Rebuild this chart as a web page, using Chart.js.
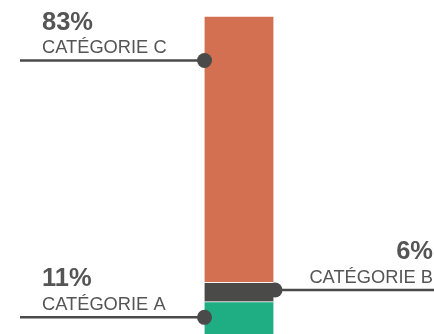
<!DOCTYPE html>
<html>
<head>
<meta charset="utf-8">
<script src="https://cdn.jsdelivr.net/npm/chart.js@4.4.0/dist/chart.umd.min.js"></script>
<style>
  html, body { margin: 0; padding: 0; background: #fff; overflow: hidden; }
  #wrap { width: 434px; height: 340px; }
</style>
</head>
<body>
<div id="wrap"><canvas id="shareChart"></canvas></div>
<script>
// données
const categories = ['CATÉGORIE A', 'CATÉGORIE B', 'CATÉGORIE C'];
const values = [11, 6, 83];
const colors = ['#1fae83', '#4a4a48', '#d37052'];

// étiquettes avec trait et point
const calloutPlugin = {
    id: 'callouts',
    afterDatasetsDraw(chart) {
        const ctx = chart.ctx;
        const W = chart.width;
        ctx.save();
        chart.data.datasets.forEach((ds, i) => {
            const bar = chart.getDatasetMeta(i).data[0];
            const top = Math.min(bar.y, bar.base);
            const bottom = Math.max(bar.y, bar.base);
            const left = bar.x - bar.width / 2;
            const right = bar.x + bar.width / 2;
            const y = Math.min((top + bottom) / 2 - 2, top + 44.5);
            const onRight = i === 1;
            const dotX = onRight ? right + 1.5 : left;

            // trait
            ctx.strokeStyle = '#4a4a4a';
            ctx.lineWidth = 2.5;
            ctx.beginPath();
            if (onRight) {
                ctx.moveTo(dotX, y);
                ctx.lineTo(W, y);
            } else {
                ctx.moveTo(20, y);
                ctx.lineTo(dotX, y);
            }
            ctx.stroke();

            // point
            ctx.fillStyle = '#4a4a4a';
            ctx.beginPath();
            ctx.arc(dotX, y, 7.5, 0, Math.PI * 2);
            ctx.fill();

            // textes
            ctx.fillStyle = '#555555';
            ctx.textBaseline = 'alphabetic';
            ctx.textAlign = onRight ? 'right' : 'left';
            const tx = onRight ? W - 1 : 42;
            ctx.font = 'bold 25.5px "Liberation Sans", Arial, sans-serif';
            ctx.fillText(values[i] + '%', tx, y - 31);
            ctx.font = '18.3px "Liberation Sans", Arial, sans-serif';
            ctx.fillText(categories[i], tx, y - 7.5);
        });
        ctx.restore();
    }
};

const ctx = document.getElementById('shareChart').getContext('2d');

const shareChart = new Chart(ctx, {
    type: 'bar',
    data: {
        labels: [''],
        datasets: categories.map((c, i) => ({
            label: c,
            data: [values[i]],
            backgroundColor: colors[i],
            borderColor: 'rgba(255,255,255,0.85)',
            borderWidth: { top: 1, bottom: 0, left: 0, right: 0 },
            borderSkipped: false,
            barThickness: 69
        }))
    },
    options: {
        responsive: true,
        maintainAspectRatio: false,
        animation: false,
        layout: {
            padding: { left: 44, right: 0, top: 16, bottom: 3 }
        },
        plugins: {
            legend: { display: false },
            tooltip: { enabled: false }
        },
        scales: {
            x: { stacked: true, display: false },
            y: { stacked: true, display: false, min: 0, max: 100 }
        }
    },
    plugins: [calloutPlugin]
});
</script>
</body>
</html>
